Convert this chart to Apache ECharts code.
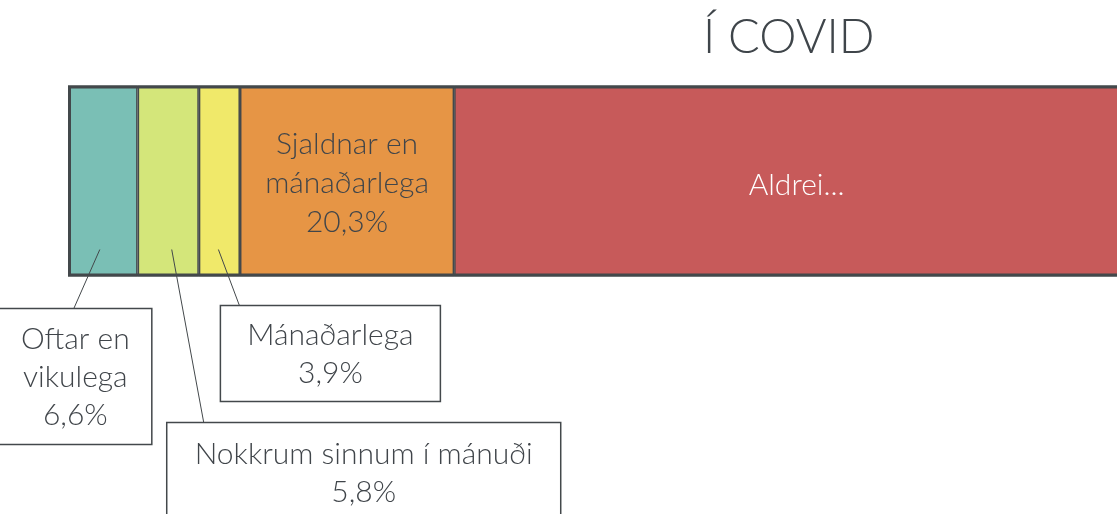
<!DOCTYPE html>
<html>
<head>
<meta charset="utf-8">
<script src="https://cdn.jsdelivr.net/npm/echarts@6/dist/echarts.min.js"></script>
<style>
html,body{margin:0;padding:0;background:#fff;}
#chart{width:1117px;height:514px;}
</style>
</head>
<body>
<div id="chart"></div>
<script>
// ---- data ----
const rowLabel = ['Í COVID'];
const segmentNames = ['Oftar en\nvikulega', 'Nokkrum sinnum í mánuði', 'Mánaðarlega', 'Sjaldnar en\nmánaðarlega', 'Aldrei...'];
const segmentValues = [6.6, 5.8, 3.9, 20.3, 63.4];
const segmentColors = ['#7abfb5', '#d4e67a', '#f0e96a', '#e69545', '#c75a5a'];
const calloutIdx = [0, 1, 2];

// ---- styling / layout (offsets relative to segment centre and bar bottom) ----
const FONT = 'Lato';
const FS = 30;
const FW = 300;
const TXT = '#40454a';
const EDGE = '#43484b';
const BAR_W = 191;
const calloutLayout = [
  {ax: -3, ay: -27, bx: -104, by: 32, bw: 153, bh: 136, ex: -29},
  {ax: 3.5, ay: -27, bx: -1.5, by: 146, bw: 394, bh: 100, ex: 35.5},
  {ax: -1, ay: -27, bx: 1, by: 29, bw: 220, bh: 96, ex: 20}
];

const fmt = v => v.toFixed(1).replace('.', ',') + '%';

const starts = [];
let acc = 0;
segmentValues.forEach(v => { starts.push(acc); acc += v; });

const series = segmentValues.map((v, i) => {
  const s = {
    type: 'bar', stack: 'all', name: segmentNames[i], barWidth: BAR_W,
    data: [v],
    itemStyle: {color: segmentColors[i], borderColor: EDGE, borderWidth: 1.5},
    label: {show: false},
    emphasis: {disabled: true}
  };
  if (i === 3) {
    s.label = {show: true, position: 'inside', formatter: segmentNames[i] + '\n' + fmt(v),
      color: TXT, fontFamily: FONT, fontSize: FS, fontWeight: FW, lineHeight: 39, align: 'center', offset: [0, 2]};
  }
  if (i === 4) {
    s.label = {show: true, position: 'inside', offset: [8, 4], formatter: segmentNames[i],
      color: '#ffffff', fontFamily: FONT, fontSize: FS, fontWeight: FW};
  }
  return s;
});

// outer frame over the whole bar
series.push({
  type: 'bar', barWidth: BAR_W, barGap: '-100%', z: 5, silent: true,
  data: [acc],
  itemStyle: {color: 'rgba(0,0,0,0)', borderColor: EDGE, borderWidth: 3}
});

// callouts
series.push({
  type: 'custom', z: 10, silent: true, clip: false,
  data: calloutIdx.map(i => [starts[i], segmentValues[i], 0, i]),
  encode: {x: [0], y: 2},
  renderItem: function (params, api) {
    const s = api.value(0), v = api.value(1), idx = api.value(3);
    const c = api.coord([s + v / 2, 0]);
    const bottom = c[1] + BAR_W / 2;
    const L = calloutLayout[params.dataIndex];
    const ax = c[0] + L.ax, ay = bottom + L.ay;
    const bx = c[0] + L.bx, by = bottom + L.by;
    return {
      type: 'group',
      children: [
        {type: 'line', shape: {x1: ax, y1: ay, x2: c[0] + L.ex, y2: by},
          style: {stroke: EDGE, lineWidth: 1}},
        {type: 'rect', shape: {x: bx, y: by, width: L.bw, height: L.bh},
          style: {fill: '#fff', stroke: EDGE, lineWidth: 1.5}},
        {type: 'text', x: bx + L.bw / 2, y: by + L.bh / 2 + 1,
          style: {text: segmentNames[idx] + '\n' + fmt(segmentValues[idx]),
            fill: TXT, font: FW + ' ' + FS + 'px ' + FONT, lineHeight: 38,
            align: 'center', verticalAlign: 'middle'}}
      ]
    };
  }
});

const chart = echarts.init(document.getElementById('chart'));
chart.setOption({
  animation: false,
  title: {text: rowLabel[0], left: 698, top: 9,
    textStyle: {fontFamily: FONT, fontSize: 47, fontWeight: 300, color: '#3f454a'}},
  grid: {left: 68, width: 1055, top: 85, height: 192, outerBoundsMode: 'none', containLabel: false},
  xAxis: {type: 'value', min: 0, max: 100, show: false},
  yAxis: {type: 'category', data: rowLabel, show: false},
  series: series
});
</script>
</body>
</html>
